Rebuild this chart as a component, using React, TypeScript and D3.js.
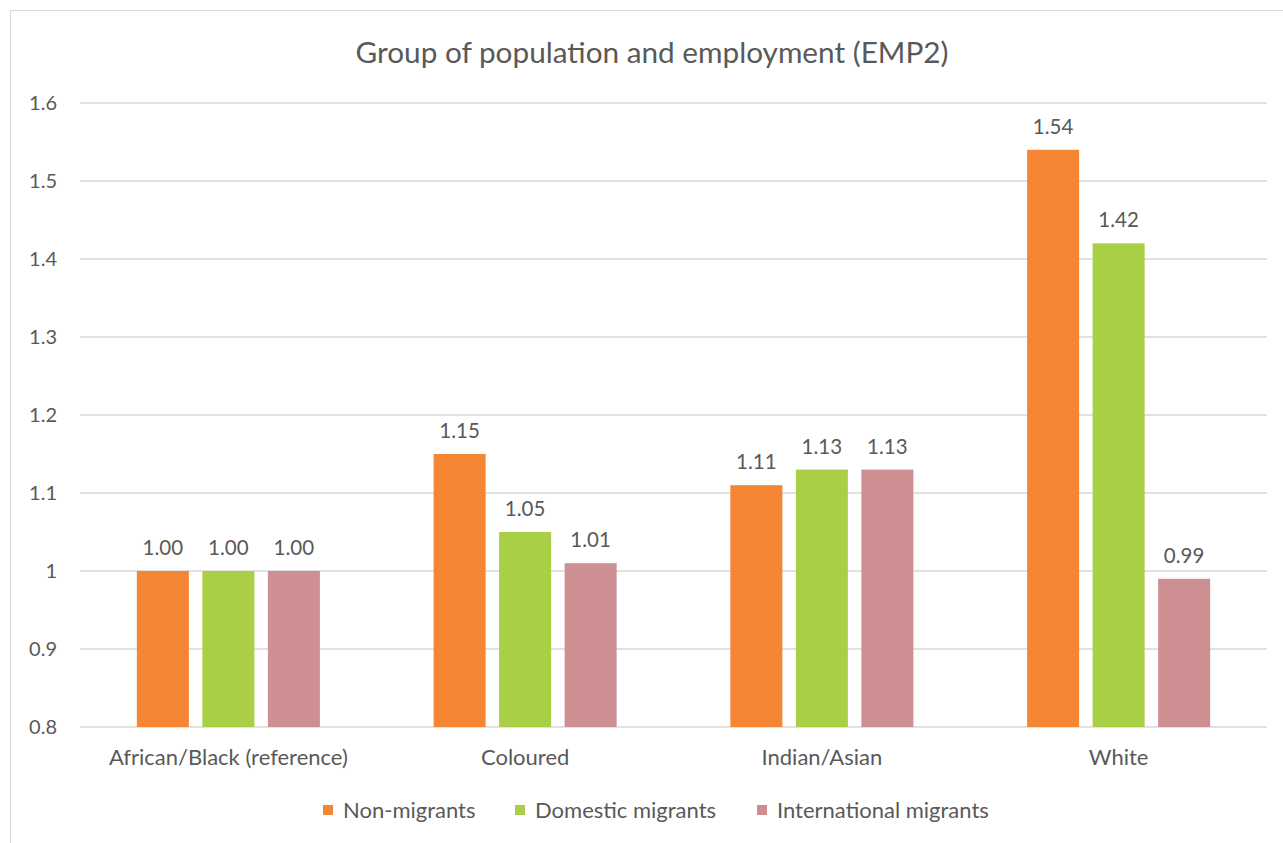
import React from "react";
import * as d3 from "d3";

const categories = ["African/Black (reference)", "Coloured", "Indian/Asian", "White"];
const seriesNames = ["Non-migrants", "Domestic migrants", "International migrants"];
const nonMigrants = [1.0, 1.15, 1.11, 1.54];
const domesticMigrants = [1.0, 1.05, 1.13, 1.42];
const internationalMigrants = [1.0, 1.01, 1.13, 0.99];
const yTicks = [0.8, 0.9, 1.0, 1.1, 1.2, 1.3, 1.4, 1.5, 1.6];
const colors = ["#F58634", "#A9CF46", "#CE8F93"];
const title = "Group of population and employment (EMP2)";

const W = 1283;
const H = 843;
const FONT = "Lato, 'Noto Sans', sans-serif";
const TEXT = "#595959";

export default function App() {
  const series = [nonMigrants, domesticMigrants, internationalMigrants];
  const x = d3.scaleBand<string>().domain(categories).range([80, 1267]).padding(0);
  const xi = d3
    .scaleBand<string>()
    .domain(seriesNames)
    .range([0, x.bandwidth()])
    .paddingInner(0.206)
    .paddingOuter(0.868);
  const y = d3.scaleLinear().domain([0.8, 1.6]).range([727, 103]);

  const legendX = [323, 515, 757];

  return (
    <svg
      width={W}
      height={H}
      style={{ position: "absolute", left: 0, top: 0, background: "#fff" }}
      fontFamily={FONT}
    >
      <rect x={10.5} y={10.5} width={W + 20} height={H + 20} fill="#fff" stroke="#d9d9d9" strokeWidth={1} />
      <text x={652} y={63} textAnchor="middle" fontSize={29} fill={TEXT} textLength={593} lengthAdjust="spacingAndGlyphs">
        {title}
      </text>
      {yTicks.map((t) => (
        <g key={t}>
          <line x1={80} x2={1267} y1={y(t)} y2={y(t)} stroke="#d9d9d9" strokeWidth={1.3} />
          <text x={57} y={y(t)} dy="0.36em" textAnchor="end" fontSize={20} fill={TEXT}>
            {d3.format("")(+t.toFixed(1))}
          </text>
        </g>
      ))}
      {categories.map((c, ci) => (
        <g key={c} transform={`translate(${x(c)},0)`}>
          {seriesNames.map((s, si) => {
            const v = series[si][ci];
            const bx = xi(s)!;
            return (
              <g key={s}>
                <rect x={bx} y={y(v)} width={xi.bandwidth()} height={y(0.8) - y(v)} fill={colors[si]} />
                <text x={bx + xi.bandwidth() / 2} y={y(v) - 16} textAnchor="middle" fontSize={20.5} fill={TEXT}>
                  {v.toFixed(2)}
                </text>
              </g>
            );
          })}
          <text x={x.bandwidth() / 2} y={765} textAnchor="middle" fontSize={22} fill={TEXT}>
            {c}
          </text>
        </g>
      ))}
      {seriesNames.map((s, si) => (
        <g key={s}>
          <rect x={legendX[si]} y={805} width={10} height={10} fill={colors[si]} />
          <text x={legendX[si] + 20} y={810} dy="0.36em" fontSize={22} fill={TEXT}>
            {s}
          </text>
        </g>
      ))}
    </svg>
  );
}
